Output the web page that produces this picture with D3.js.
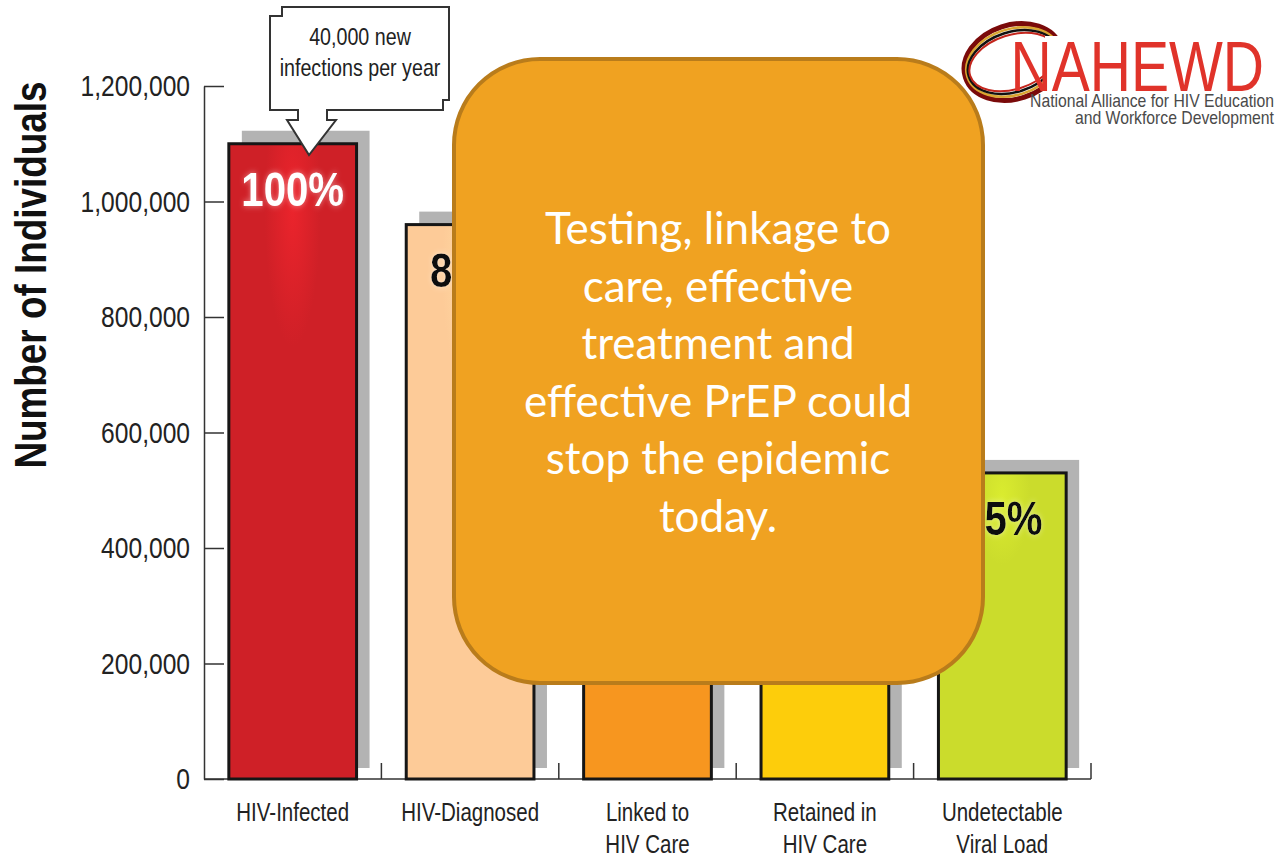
<!DOCTYPE html>
<html>
<head>
<meta charset="utf-8">
<script src="https://cdn.jsdelivr.net/npm/d3@7"></script>
<style>
  body { margin: 0; background: #fff; }
  svg { display: block; }
</style>
</head>
<body>
<div id="chart"></div>
<script>
const width = 1278;
const height = 858;

// data
const stages = ['HIV-Infected', 'HIV-Diagnosed', 'Linked to HIV Care', 'Retained in HIV Care', 'Undetectable Viral Load'];
const stageLines = [['HIV-Infected'], ['HIV-Diagnosed'], ['Linked to', 'HIV Care'], ['Retained in', 'HIV Care'], ['Undetectable', 'Viral Load']];
const counts = [1100000, 960000, 800000, 660000, 530000];
const percents = ['100%', '87%', '73%', '60%', '45%'];
const barColors = ['#cf2027', '#fdcb98', '#f7961f', '#fdcd0b', '#cbdc2c'];
const yTicks = [0, 200000, 400000, 600000, 800000, 1000000, 1200000];
const calloutLines = ['40,000 new', 'infections per year'];
const boxLines = ['Testing, linkage to', 'care, effective', 'treatment and', 'effective PrEP could', 'stop the epidemic', 'today.'];

// no condensed face is installed, so squeeze Liberation Sans sideways
const sans = "'Liberation Sans', Arial, sans-serif";
const squeeze = 0.82;

const svg = d3.select('#chart')
  .append('svg')
  .attr('width', width)
  .attr('height', height);

const defs = svg.append('defs');

// soft light centre on the bars
barColors.forEach((c, i) => {
  const g = defs.append('radialGradient')
    .attr('id', 'grad' + i)
    .attr('cx', '50%').attr('cy', i == 0 ? '10%' : '8%')
    .attr('r', '55%');
  g.append('stop').attr('offset', '0%').attr('stop-color', d3.color(c).brighter(i == 0 ? 0.35 : 0.2));
  g.append('stop').attr('offset', '40%').attr('stop-color', c);
  g.append('stop').attr('offset', '100%').attr('stop-color', c);
});

const glow = defs.append('filter').attr('id', 'glow')
  .attr('x', '-20%').attr('y', '-30%').attr('width', '140%').attr('height', '160%');
glow.append('feGaussianBlur').attr('in', 'SourceAlpha').attr('stdDeviation', 3).attr('result', 'blur');
glow.append('feFlood').attr('flood-color', '#fff').attr('flood-opacity', 0.45);
glow.append('feComposite').attr('in2', 'blur').attr('operator', 'in').attr('result', 'halo');
const merge = glow.append('feMerge');
merge.append('feMergeNode').attr('in', 'halo');
merge.append('feMergeNode').attr('in', 'SourceGraphic');

// scales
const yScale = d3.scaleLinear()
  .domain([0, 1200000])
  .range([779, 86]);

const xScale = d3.scaleBand()
  .domain(stages)
  .range([204, 1091])
  .paddingInner(0.28)
  .paddingOuter(0.14);

const cx = i => xScale(stages[i]) + xScale.bandwidth() / 2;

// y axis, ticks point into the plot
const yAxis = d3.axisLeft(yScale)
  .tickValues(yTicks)
  .tickFormat(d3.format(','))
  .tickSizeInner(-20)
  .tickSizeOuter(0)
  .tickPadding(14);

const yg = svg.append('g')
  .attr('transform', 'translate(204,0)')
  .call(yAxis);
yg.select('.domain').attr('stroke', '#333').attr('stroke-width', 1.5);
yg.selectAll('.tick line').attr('stroke', '#333').attr('stroke-width', 1.5);
yg.selectAll('.tick text')
  .attr('x', -14 / squeeze)
  .attr('transform', 'scale(' + squeeze + ',1)')
  .attr('fill', '#222')
  .style('font-family', sans)
  .style('font-size', '30px');

// x axis line with small upward ticks between bands
svg.append('line')
  .attr('x1', 204).attr('x2', 1091)
  .attr('y1', yScale(0)).attr('y2', yScale(0))
  .attr('stroke', '#333').attr('stroke-width', 1.5);

svg.selectAll('.xtick')
  .data(d3.range(1, stages.length + 1))
  .enter()
  .append('line')
  .attr('class', 'xtick')
  .attr('x1', i => xScale.range()[0] + i * xScale.step())
  .attr('x2', i => xScale.range()[0] + i * xScale.step())
  .attr('y1', yScale(0))
  .attr('y2', yScale(0) - 16)
  .attr('stroke', '#333').attr('stroke-width', 1.5);

// y axis title
svg.append('text')
  .attr('transform', 'translate(46,275) rotate(-90) scale(' + squeeze + ',1)')
  .attr('text-anchor', 'middle')
  .style('font-family', sans)
  .style('font-size', '45px')
  .style('font-weight', 'bold')
  .attr('fill', '#111')
  .text('Number of Individuals');

// bar shadows
svg.selectAll('.shadow')
  .data(counts)
  .enter()
  .append('rect')
  .attr('class', 'shadow')
  .attr('x', (d, i) => xScale(stages[i]) + 13)
  .attr('y', d => yScale(d) - 13)
  .attr('width', xScale.bandwidth())
  .attr('height', d => yScale(0) - 11 - (yScale(d) - 13))
  .attr('fill', '#b3b3b3');

// bars
svg.selectAll('.bar')
  .data(counts)
  .enter()
  .append('rect')
  .attr('class', 'bar')
  .attr('x', (d, i) => xScale(stages[i]))
  .attr('y', d => yScale(d))
  .attr('width', xScale.bandwidth())
  .attr('height', d => yScale(0) - yScale(d))
  .attr('fill', (d, i) => 'url(#grad' + i + ')')
  .attr('stroke', '#161616')
  .attr('stroke-width', 3);

// percent labels
svg.selectAll('.pct')
  .data(counts)
  .enter()
  .append('text')
  .attr('class', 'pct')
  .attr('transform', (d, i) => 'translate(' + cx(i) + ',' + (yScale(d) + 62) + ') scale(' + squeeze + ',1)')
  .attr('text-anchor', 'middle')
  .attr('fill', (d, i) => i == 0 ? '#fff' : '#111')
  .attr('filter', 'url(#glow)')
  .style('font-family', sans)
  .style('font-size', '49px')
  .style('font-weight', 'bold')
  .text((d, i) => percents[i]);

// category labels, one text per line
const labelRows = stageLines.flatMap((lines, i) => lines.map((t, j) => ({t: t, i: i, j: j})));
svg.selectAll('.xlabel')
  .data(labelRows)
  .enter()
  .append('text')
  .attr('class', 'xlabel')
  .attr('transform', d => 'translate(' + cx(d.i) + ',' + (821 + d.j * 32) + ') scale(' + squeeze + ',1)')
  .attr('text-anchor', 'middle')
  .attr('fill', '#222')
  .style('font-family', sans)
  .style('font-size', '25px')
  .text(d => d.t);

// callout above the first bar
const callout = 'M282,7 L449,7 L449,100 L443,100 L443,110 L327,110 L327,120 L336,120 L309,155 L287,120 L298,120 L298,110 L270,110 L270,16 L282,16 Z';
svg.append('path')
  .attr('d', callout)
  .attr('fill', '#fff')
  .attr('stroke', '#333')
  .attr('stroke-width', 2);

svg.selectAll('.callout-text')
  .data(calloutLines)
  .enter()
  .append('text')
  .attr('class', 'callout-text')
  .attr('transform', (d, i) => 'translate(360,' + (45 + i * 31) + ') scale(' + squeeze + ',1)')
  .attr('text-anchor', 'middle')
  .attr('fill', '#222')
  .style('font-family', sans)
  .style('font-size', '24px')
  .text(d => d);

// logo
const logo = svg.append('g');
[['#7a0a0a', 5, 0], ['#d9a531', 2.5, 4], ['#111', 2.5, 7], ['#c3261d', 2, 10]].forEach(r => {
  logo.append('ellipse')
    .attr('cx', 1013).attr('cy', 62)
    .attr('rx', 50 - r[2] / 2).attr('ry', 37 - r[2])
    .attr('transform', 'rotate(-18,1013,62)')
    .attr('fill', 'none')
    .attr('stroke', r[0])
    .attr('stroke-width', r[1]);
});
logo.append('rect')
  .attr('x', 1045).attr('y', 36).attr('width', 60).attr('height', 60)
  .attr('fill', '#fff');
logo.append('text')
  .attr('transform', 'translate(1264,91) scale(0.92,1.15)')
  .attr('text-anchor', 'end')
  .attr('fill', '#e0332a')
  .style('font-family', sans)
  .style('font-size', '62px')
  .text('NAHEWD');
logo.selectAll('.sub')
  .data(['National Alliance for HIV Education', 'and Workforce Development'])
  .enter()
  .append('text')
  .attr('class', 'sub')
  .attr('transform', (d, i) => 'translate(1274,' + (107 + i * 17) + ') scale(0.9,1)')
  .attr('text-anchor', 'end')
  .attr('fill', '#4a4a4a')
  .style('font-family', sans)
  .style('font-size', '17.5px')
  .text(d => d);

// overlay message box
svg.append('rect')
  .attr('x', 454).attr('y', 59)
  .attr('width', 529).attr('height', 624)
  .attr('rx', 86).attr('ry', 86)
  .attr('fill', '#f0a221')
  .attr('stroke', '#b97c1b')
  .attr('stroke-width', 4);

svg.selectAll('.msg')
  .data(boxLines)
  .enter()
  .append('text')
  .attr('class', 'msg')
  .attr('x', 718)
  .attr('y', (d, i) => 244 + i * 57.6)
  .attr('text-anchor', 'middle')
  .attr('fill', '#fff')
  .style('font-family', "Lato, 'Open Sans', sans-serif")
  .style('font-size', '44px')
  .text(d => d);
</script>
</body>
</html>
